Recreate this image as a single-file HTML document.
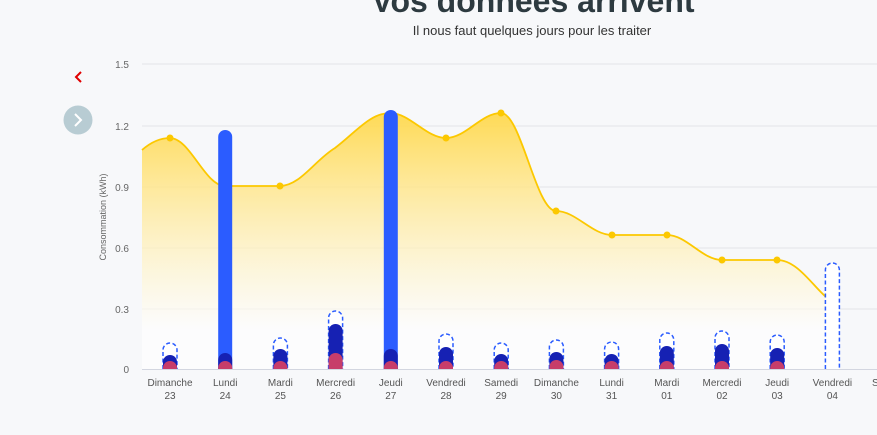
<!DOCTYPE html>
<html><head><meta charset="utf-8"><style>
html,body{margin:0;padding:0;background:#f7f8fa;width:877px;height:435px;overflow:hidden}
text{font-family:"Liberation Sans",sans-serif}
</style></head><body>
<svg width="877" height="435" xmlns="http://www.w3.org/2000/svg">
<defs>
<linearGradient id="g" x1="0" y1="110" x2="0" y2="330" gradientUnits="userSpaceOnUse">
<stop offset="0" stop-color="#ffd84a" stop-opacity="0.95"/>
<stop offset="1" stop-color="#ffffff" stop-opacity="0.6"/>
</linearGradient>
</defs>
<text x="533" y="12" text-anchor="middle" font-size="32" font-weight="bold" fill="#2d3a40">Vos données arrivent</text>
<text x="532" y="35" text-anchor="middle" font-size="13" fill="#333">Il nous faut quelques jours pour les traiter</text>
<path d="M81 72 L76 77 L81 82" stroke="#e00000" stroke-width="2" fill="none"/>
<circle cx="78" cy="120" r="14.5" fill="#b8ccd3"/>
<path d="M75 114 L81 120 L75 126" stroke="#fff" stroke-width="2" fill="none"/>
<g stroke="#e3e5e8" stroke-width="1">
<line x1="142" y1="64" x2="877" y2="64"/><line x1="142" y1="126" x2="877" y2="126"/>
<line x1="142" y1="187" x2="877" y2="187"/><line x1="142" y1="248" x2="877" y2="248"/>
<line x1="142" y1="309" x2="877" y2="309"/>
</g>
<g font-size="10" fill="#666" text-anchor="end">
<text x="129" y="68">1.5</text><text x="129" y="130">1.2</text><text x="129" y="191">0.9</text>
<text x="129" y="252">0.6</text><text x="129" y="313">0.3</text><text x="129" y="373">0</text>
</g>
<text transform="translate(106,217) rotate(-90)" text-anchor="middle" font-size="9" fill="#666">Consommation (kWh)</text>
<path d="M142,150 C150,143 160,138 170,138 C190,138 205,186 225,186 L280,186 C300,186 315,160 335,148 C355,133 370,113 390,113 C410,113 426,138 446,138 C466,138 481,113 501,113 C521,113 536,211 556,211 C576,211 592,235 612,235 L667,235 C687,235 702,260 722,260 L777,260 C797,260 812,285 826,297 L826,369 L142,369 Z" fill="url(#g)"/>
<path d="M142,150 C150,143 160,138 170,138 C190,138 205,186 225,186 L280,186 C300,186 315,160 335,148 C355,133 370,113 390,113 C410,113 426,138 446,138 C466,138 481,113 501,113 C521,113 536,211 556,211 C576,211 592,235 612,235 L667,235 C687,235 702,260 722,260 L777,260 C797,260 812,285 826,297" fill="none" stroke="#fcc800" stroke-width="1.8"/>
<g fill="#fcc800">
<circle cx="170" cy="138" r="3.5"/><circle cx="280" cy="186" r="3.5"/><circle cx="446" cy="138" r="3.5"/>
<circle cx="501" cy="113" r="3.5"/><circle cx="556" cy="211" r="3.5"/><circle cx="612" cy="235" r="3.5"/>
<circle cx="667" cy="235" r="3.5"/><circle cx="722" cy="260" r="3.5"/><circle cx="777" cy="260" r="3.5"/>
</g>
<line x1="142" y1="369.5" x2="877" y2="369.5" stroke="#d3d6e0"/>
<g fill="#fff" stroke="#2b5cff" stroke-width="1.5" stroke-dasharray="4,2.5">
<path d="M163,369 V350 a7,7 0 0 1 14,0 V369"/>
<path d="M273.4,369 V345 a7,7 0 0 1 14,0 V369"/>
<path d="M328.6,369 V318 a7,7 0 0 1 14,0 V369"/>
<path d="M439,369 V341 a7,7 0 0 1 14,0 V369"/>
<path d="M494.2,369 V350 a7,7 0 0 1 14,0 V369"/>
<path d="M549.4,369 V347 a7,7 0 0 1 14,0 V369"/>
<path d="M604.6,369 V349 a7,7 0 0 1 14,0 V369"/>
<path d="M659.8,369 V340 a7,7 0 0 1 14,0 V369"/>
<path d="M715,369 V338 a7,7 0 0 1 14,0 V369"/>
<path d="M770.2,369 V342 a7,7 0 0 1 14,0 V369"/>
<path d="M825.4,369 V270 a7,7 0 0 1 14,0 V369"/>
</g>
<g fill="#2b5cff">
<path d="M218.2,369 V137 a7,7 0 0 1 14,0 V369 Z"/>
<path d="M383.8,369 V117 a7,7 0 0 1 14,0 V369 Z"/>
</g>
<g fill="#1621b3">
<path d="M163,369 V362 a7,7 0 0 1 14,0 V369 Z"/>
<path d="M218.2,369 V360 a7,7 0 0 1 14,0 V369 Z"/>
<path d="M273.4,369 V356 a7,7 0 0 1 14,0 V369 Z"/>
<path d="M328.6,369 V331 a7,7 0 0 1 14,0 V369 Z"/>
<path d="M383.8,369 V356 a7,7 0 0 1 14,0 V369 Z"/>
<path d="M439,369 V354 a7,7 0 0 1 14,0 V369 Z"/>
<path d="M494.2,369 V361 a7,7 0 0 1 14,0 V369 Z"/>
<path d="M549.4,369 V359 a7,7 0 0 1 14,0 V369 Z"/>
<path d="M604.6,369 V361 a7,7 0 0 1 14,0 V369 Z"/>
<path d="M659.8,369 V353 a7,7 0 0 1 14,0 V369 Z"/>
<path d="M715,369 V351 a7,7 0 0 1 14,0 V369 Z"/>
<path d="M770.2,369 V355 a7,7 0 0 1 14,0 V369 Z"/>
</g>
<g fill="#c73d6a">
<path d="M163,369 V368 a7,7 0 0 1 14,0 V369 Z"/>
<path d="M218.2,369 V368 a7,7 0 0 1 14,0 V369 Z"/>
<path d="M273.4,369 V368 a7,7 0 0 1 14,0 V369 Z"/>
<path d="M328.6,369 V360 a7,7 0 0 1 14,0 V369 Z"/>
<path d="M383.8,369 V368 a7,7 0 0 1 14,0 V369 Z"/>
<path d="M439,369 V368 a7,7 0 0 1 14,0 V369 Z"/>
<path d="M494.2,369 V368 a7,7 0 0 1 14,0 V369 Z"/>
<path d="M549.4,369 V367 a7,7 0 0 1 14,0 V369 Z"/>
<path d="M604.6,369 V368 a7,7 0 0 1 14,0 V369 Z"/>
<path d="M659.8,369 V368 a7,7 0 0 1 14,0 V369 Z"/>
<path d="M715,369 V368 a7,7 0 0 1 14,0 V369 Z"/>
<path d="M770.2,369 V368 a7,7 0 0 1 14,0 V369 Z"/>
</g>
<g font-size="10" fill="#555" text-anchor="middle">
<text x="170" y="386">Dimanche</text><text x="170" y="399">23</text>
<text x="225.2" y="386">Lundi</text><text x="225.2" y="399">24</text>
<text x="280.4" y="386">Mardi</text><text x="280.4" y="399">25</text>
<text x="335.6" y="386">Mercredi</text><text x="335.6" y="399">26</text>
<text x="390.8" y="386">Jeudi</text><text x="390.8" y="399">27</text>
<text x="446" y="386">Vendredi</text><text x="446" y="399">28</text>
<text x="501.2" y="386">Samedi</text><text x="501.2" y="399">29</text>
<text x="556.4" y="386">Dimanche</text><text x="556.4" y="399">30</text>
<text x="611.6" y="386">Lundi</text><text x="611.6" y="399">31</text>
<text x="666.8" y="386">Mardi</text><text x="666.8" y="399">01</text>
<text x="722" y="386">Mercredi</text><text x="722" y="399">02</text>
<text x="777.2" y="386">Jeudi</text><text x="777.2" y="399">03</text>
<text x="832.4" y="386">Vendredi</text><text x="832.4" y="399">04</text>
<text x="872" y="386" text-anchor="start">S</text>
</g>
</svg>
</body></html>
